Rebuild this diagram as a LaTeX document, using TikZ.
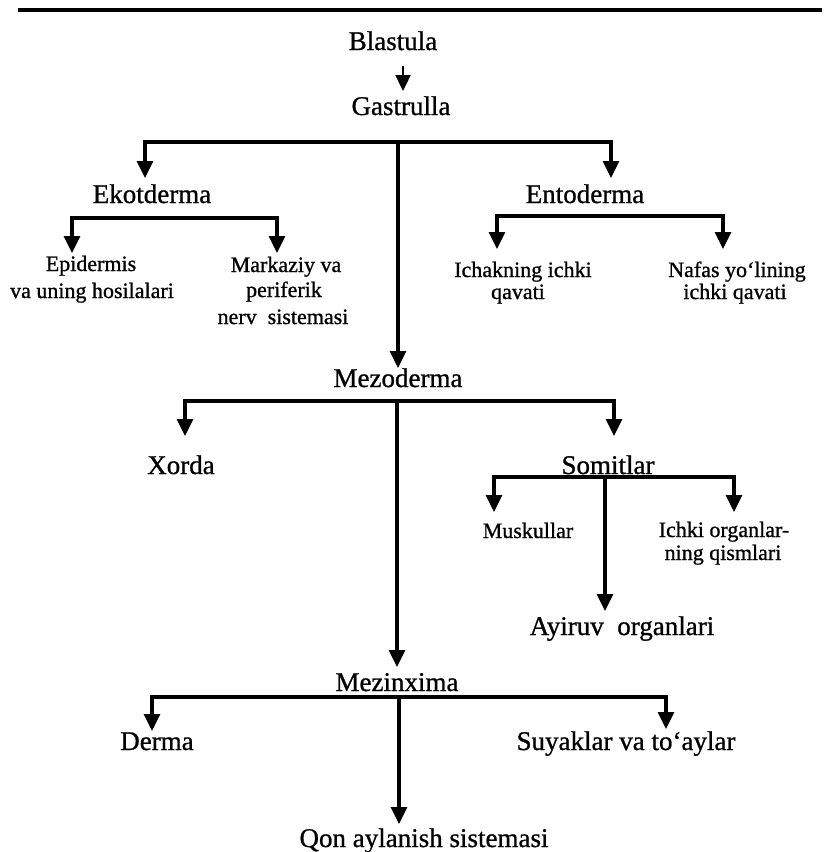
\documentclass[tikz,border=0pt]{standalone}
\usepackage{fontspec}
\setmainfont{Liberation Serif}
\newfontfamily\scanfont{Liberation Serif}[FakeBold=0.9]
\usetikzlibrary{arrows.meta}
\tikzset{
  big/.style={inner sep=0pt, anchor=base, font=\scanfont\fontsize{27}{30}\selectfont},
  small/.style={inner sep=0pt, anchor=base, font=\scanfont\fontsize{22}{25}\selectfont},
  ln/.style={line width=3.3pt, line cap=butt},
  arr/.style={line width=3.3pt, -{Triangle[width=16pt,length=17pt]}},
  thinarr/.style={line width=2.4pt, -{Triangle[width=15pt,length=16pt]}}
}
\begin{document}
\begin{tikzpicture}[x=1pt,y=-1pt]
\useasboundingbox (0,0) rectangle (825,852);
% top rule
\coordinate (ruleL) at (18,10);
\coordinate (ruleR) at (822,10);
\draw[line width=3.5pt] (ruleL) -- (ruleR);

% texts
\node[big] (blast) at (393,50) {Blastula};
\node[big] (gast) at (401,115) {Gastrulla};
\node[big] (ekto) at (152,203) {Ekotderma};
\node[big] (ento) at (585,203) {Entoderma};
\node[small] (epi1) at (91,271) {Epidermis};
\node[small] (epi2) at (92,298) {va uning hosilalari};
\node[small] (mark1) at (286,272) {Markaziy va};
\node[small] (mark2) at (284,297) {periferik};
\node[small] (mark3) at (283,324) {nerv\ \ sistemasi};
\node[small] (ich1) at (523,277) {Ichakning ichki};
\node[small] (ich2) at (518,299) {qavati};
\node[small] (naf1) at (737,277) {Nafas\ yo‘lining};
\node[small] (naf2) at (735,299) {ichki qavati};
\node[big] (mezo) at (398,387) {Mezoderma};
\node[big] (xorda) at (181,474) {Xorda};
\node[big] (somit) at (608,474) {Somitlar};
\node[small] (musk) at (528,538) {Muskullar};
\node[small] (ichk1) at (724,537) {Ichki organlar-};
\node[small] (ichk2) at (723,560) {ning qismlari};
\node[big] (ayir) at (622,635) {Ayiruv\ \ organlari};
\node[big] (mezin) at (397,691) {Mezinxima};
\node[big] (derma) at (157,750) {Derma};
\node[big] (suyak) at (626,750) {Suyaklar va to‘aylar};
\node[big] (qon) at (424,847) {Qon\ aylanish\ sistemasi};

% Blastula -> Gastrulla
\coordinate (b0) at (403,66);
\coordinate (b1) at (403,91);
\draw[thinarr] (b0) -- (b1);

% Gastrulla bar
\coordinate (gL) at (145,142);
\coordinate (gR) at (611,142);
\coordinate (gC) at (398,142);
\coordinate (gLt) at (145,178);
\coordinate (gRt) at (611,178);
\coordinate (gCt) at (398,368);
\draw[ln] ([xshift=-1.6pt]gL) -- ([xshift=1.6pt]gR);
\draw[arr] (gL) -- (gLt);
\draw[arr] (gR) -- (gRt);
\draw[arr] (gC) -- (gCt);

% Ekotderma bar
\coordinate (eL) at (72,218);
\coordinate (eR) at (277,218);
\coordinate (eLt) at (72,253);
\coordinate (eRt) at (277,253);
\draw[ln] ([xshift=-1.6pt]eL) -- ([xshift=1.6pt]eR);
\draw[arr] (eL) -- (eLt);
\draw[arr] (eR) -- (eRt);

% Entoderma bar
\coordinate (nL) at (497,216);
\coordinate (nR) at (723,216);
\coordinate (nLt) at (497,249);
\coordinate (nRt) at (723,249);
\draw[ln] ([xshift=-1.6pt]nL) -- ([xshift=1.6pt]nR);
\draw[arr] (nL) -- (nLt);
\draw[arr] (nR) -- (nRt);

% Mezoderma bar
\coordinate (mL) at (185,401);
\coordinate (mR) at (614,401);
\coordinate (mC) at (397,401);
\coordinate (mLt) at (185,436);
\coordinate (mRt) at (614,436);
\coordinate (mCt) at (397,667);
\draw[ln] ([xshift=-1.6pt]mL) -- ([xshift=1.6pt]mR);
\draw[arr] (mL) -- (mLt);
\draw[arr] (mR) -- (mRt);
\draw[arr] (mC) -- (mCt);

% Somitlar bar
\coordinate (sL) at (494,477);
\coordinate (sR) at (734,477);
\coordinate (sC) at (605,477);
\coordinate (sLt) at (494,512);
\coordinate (sRt) at (734,512);
\coordinate (sCt) at (605,611);
\draw[ln] ([xshift=-1.6pt]sL) -- ([xshift=1.6pt]sR);
\draw[arr] (sL) -- (sLt);
\draw[arr] (sR) -- (sRt);
\draw[arr] (sC) -- (sCt);

% Mezinxima bar
\coordinate (zL) at (152,697);
\coordinate (zR) at (666,697);
\coordinate (zC) at (399,697);
\coordinate (zLt) at (152,731);
\coordinate (zRt) at (666,729);
\coordinate (zCt) at (399,824);
\draw[ln] ([xshift=-1.6pt]zL) -- ([xshift=1.6pt]zR);
\draw[arr] (zL) -- (zLt);
\draw[arr] (zR) -- (zRt);
\draw[arr] (zC) -- (zCt);
\end{tikzpicture}
\end{document}
